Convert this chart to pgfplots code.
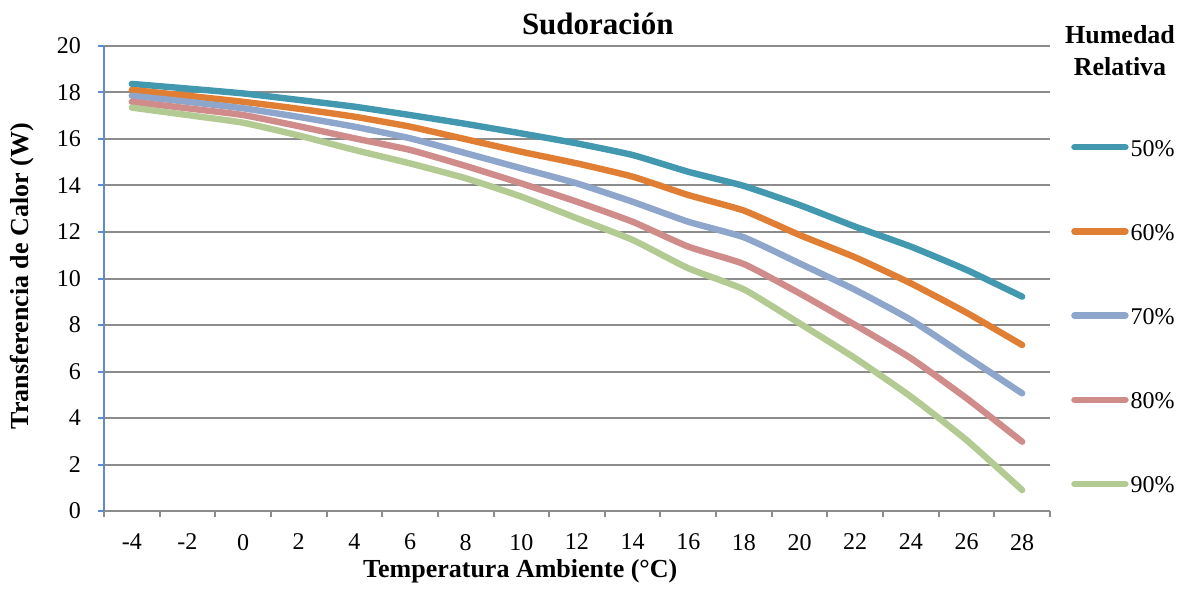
\documentclass[border=0pt]{standalone}
\usepackage{pgfplots}
\pgfplotsset{compat=1.18}
\usepackage{fontspec}
\setmainfont{Liberation Serif}

\definecolor{c50}{HTML}{4198AF}
\definecolor{c60}{HTML}{E07F33}
\definecolor{c70}{HTML}{8EA5CC}
\definecolor{c80}{HTML}{D08B8B}
\definecolor{c90}{HTML}{B3CB92}
\definecolor{gridgray}{HTML}{8C8C8C}
\definecolor{axblue}{HTML}{5B8BD0}

\begin{document}
\begin{tikzpicture}
\begin{axis}[
    scale only axis,
    width=473pt, height=232.5pt,
    xmin=-5, xmax=29, ymin=0, ymax=20,
    axis x line*=bottom, axis y line*=left,
    x axis line style={draw=gridgray, line width=1pt},
    y axis line style={draw=axblue, line width=1pt},
    xtick={-4,-2,...,28},
    xticklabels={-4,-2,0,2,4,6,8,10,12,14,16,18,20,22,24,26,28},
    major x tick style={draw=none},
    minor xtick={-5,-3,...,29},
    minor x tick style={draw=gridgray, line width=1pt},
    minor tick length=3pt,
    ytick={0,2,...,20},
    yticklabels={0,2,4,6,8,10,12,14,16,18,20},
    major y tick style={draw=axblue, line width=1pt},
    major tick length=3pt,
    tick align=outside,
    ymajorgrids,
    grid style={draw=gridgray, line width=1pt},
    ticklabel style={font=\fontsize{12}{14}\selectfont},
    xticklabel style={yshift=-5pt},
    yticklabel style={xshift=-5pt},
    xlabel={\textbf{Temperatura Ambiente (°C)}},
    ylabel={\textbf{Transferencia de Calor (W)}},
    xlabel style={font=\fontsize{13}{15}\selectfont, at={(rel axis cs:0.44,0)}, anchor=center, yshift=-30pt},
    ylabel style={font=\fontsize{13}{15}\selectfont, at={(rel axis cs:-0.0867,0.505)}, anchor=center},
    title={\textbf{Sudoración}},
    title style={font=\fontsize{15.5}{18}\selectfont, at={(rel axis cs:0.522,1)}, anchor=base, yshift=-0.5pt},
    clip=false,
    legend style={draw=none, fill=none, at={(rel axis cs:1.022,0.807)}, anchor=north west,
        inner sep=0pt, row sep=28.1pt, font=\fontsize{12}{14}\selectfont,
        nodes={text height=9pt, text depth=3pt, inner sep=1pt}},
    legend cell align=left,
    legend image code/.code={\draw[#1, line width=3.2pt, line cap=round] (1.5pt,1.5pt) -- (27pt,1.5pt);},
    every axis plot/.append style={line width=3.2pt, line cap=round, line join=round, mark=none, smooth, tension=0.3},
]
\addplot[c50] coordinates {(-4,18.37) (-2,18.17) (0,17.96) (2,17.68) (4,17.39) (6,17.03) (8,16.65) (10,16.24) (12,15.81) (14,15.31) (16,14.59) (18,13.98) (20,13.16) (22,12.23) (24,11.37) (26,10.37) (28,9.22)};
\addlegendentry{50\%}
\addplot[c60] coordinates {(-4,18.11) (-2,17.86) (0,17.60) (2,17.30) (4,16.96) (6,16.53) (8,15.99) (10,15.45) (12,14.95) (14,14.38) (16,13.59) (18,12.92) (20,11.87) (22,10.91) (24,9.79) (26,8.53) (28,7.14)};
\addlegendentry{60\%}
\addplot[c70] coordinates {(-4,17.86) (-2,17.60) (0,17.32) (2,16.95) (4,16.53) (6,16.03) (8,15.39) (10,14.74) (12,14.09) (14,13.30) (16,12.44) (18,11.77) (20,10.65) (22,9.51) (24,8.22) (26,6.64) (28,5.06)};
\addlegendentry{70\%}
\addplot[c80] coordinates {(-4,17.60) (-2,17.32) (0,17.03) (2,16.55) (4,16.03) (6,15.53) (8,14.84) (10,14.09) (12,13.30) (14,12.44) (16,11.37) (18,10.62) (20,9.36) (22,8.00) (24,6.57) (26,4.85) (28,2.98)};
\addlegendentry{80\%}
\addplot[c90] coordinates {(-4,17.35) (-2,17.03) (0,16.70) (2,16.15) (4,15.53) (6,14.95) (8,14.31) (10,13.52) (12,12.59) (14,11.66) (16,10.44) (18,9.53) (20,8.07) (22,6.57) (24,4.92) (26,3.05) (28,0.90)};
\addlegendentry{90\%}
\node[font=\bfseries\fontsize{13}{16}\selectfont, align=center] at (rel axis cs:1.074,0.99) {Humedad\\Relativa};
\path (rel axis cs:-0.1099,-0.1613) rectangle (rel axis cs:1.1427,1.0989);
\end{axis}
\end{tikzpicture}
\end{document}
